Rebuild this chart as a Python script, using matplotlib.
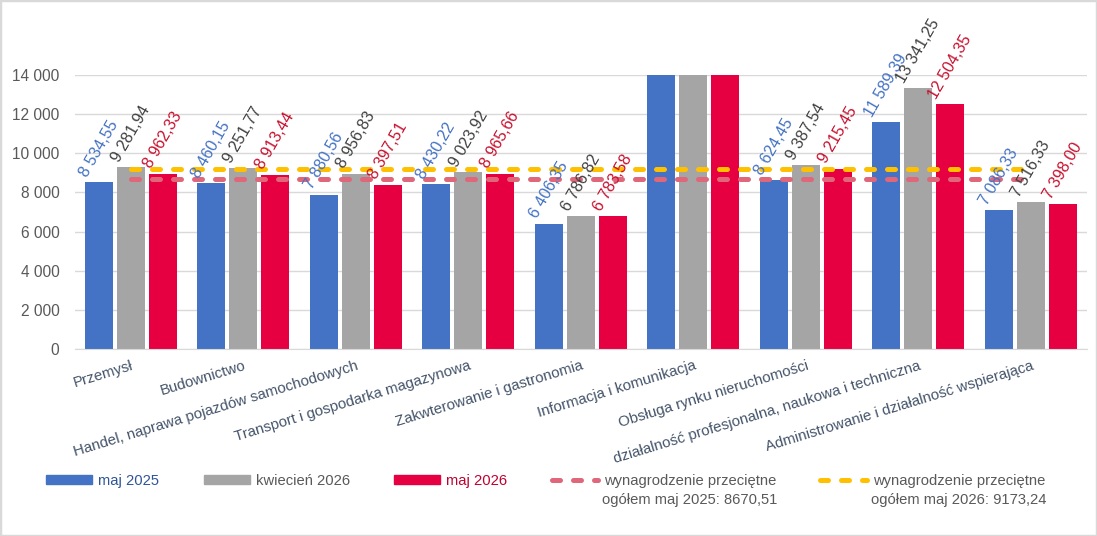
import numpy as np
import matplotlib
matplotlib.use("Agg")
import matplotlib.pyplot as plt
from matplotlib.lines import Line2D
from matplotlib.patches import Patch, Rectangle

plt.rcParams['font.family'] = ['Liberation Sans', 'DejaVu Sans']

categories = ["Przemysł", "Budownictwo", "Handel, naprawa pojazdów samochodowych",
              "Transport i gospodarka magazynowa", "Zakwterowanie i gastronomia",
              "Informacja i komunikacja", "Obsługa rynku nieruchomości",
              "działalność profesjonalna, naukowa i techniczna",
              "Administrowanie i działalność wspierająca"]
maj_2025 = [8534.55, 8460.15, 7880.56, 8430.22, 6406.35, 15012.70, 8624.45, 11589.39, 7086.33]
kwiecien_2026 = [9281.94, 9251.77, 8956.83, 9023.92, 6786.82, 16129.55, 9387.54, 13341.25, 7516.33]
maj_2026 = [8962.33, 8913.44, 8397.51, 8965.66, 6783.58, 15852.21, 9215.45, 12504.35, 7398.00]
avg_2025 = 8670.51
avg_2026 = 9173.24
series_names = ["maj 2025", "kwiecień 2026", "maj 2026"]
y_ticks = [0, 2000, 4000, 6000, 8000, 10000, 12000, 14000]

bar_colors = ["#4472C4", "#A5A5A5", "#E60042"]
label_colors = ["#4472C4", "#404040", "#C8102E"]
legend_text_colors = ["#2F5597", "#595959", "#C00030"]
pink = "#E0667A"
yellow = "#FFC000"
text_gray = "#44546A"


def fmt(v):
    return f"{v:,.2f}".replace(",", " ").replace(".", ",")


fig = plt.figure(figsize=(10.97, 5.36), dpi=100)
ax = fig.add_axes([0.068, 0.349, 0.923, 0.511])

x = np.arange(len(categories))
width = 0.25
step = 0.285
for i, vals in enumerate([maj_2025, kwiecien_2026, maj_2026]):
    xs = x + (i - 1) * step
    ax.bar(xs, vals, width, color=bar_colors[i], zorder=2, label=series_names[i])
    for xi, v in zip(xs, vals):
        if v > y_ticks[-1]:
            continue
        ax.annotate(fmt(v), (xi, v), xytext=(0, 2), textcoords="offset points",
                    rotation=60, ha="center", va="bottom", fontsize=11.5,
                    color=label_colors[i], zorder=5, annotation_clip=False)

dash_kw = dict(lw=3.6, dashes=(1.6, 2.6), dash_capstyle="round", zorder=3)
ax.plot([x[0], x[-1]], [avg_2025, avg_2025], color=pink, **dash_kw)
ax.plot([x[0], x[-1]], [avg_2026, avg_2026], color=yellow, **dash_kw)

ax.set_ylim(0, y_ticks[-1])
ax.set_xlim(-0.5, len(categories) - 0.5)
ax.set_yticks(y_ticks)
ax.set_yticklabels([f"{t:,}".replace(",", " ") for t in y_ticks], fontsize=11.2, color="#595959")
ax.set_xticks(x)
ax.set_xticklabels(categories, rotation=17, ha="right", va="top", rotation_mode="anchor",
                   fontsize=10.8, color=text_gray)
ax.tick_params(axis="both", length=0)
ax.tick_params(axis="x", pad=7)
ax.tick_params(axis="y", pad=11)
ax.grid(axis="y", color="#D9D9D9", lw=1, zorder=0)
ax.set_axisbelow(True)
for s in ["top", "right", "left"]:
    ax.spines[s].set_visible(False)
ax.spines["bottom"].set_color("#D9D9D9")

handles = [Patch(color=c) for c in bar_colors]
handles += [Line2D([], [], color=pink, lw=3.6, dashes=(1.6, 2.6), dash_capstyle="round"),
            Line2D([], [], color=yellow, lw=3.6, dashes=(1.6, 2.6), dash_capstyle="round")]
labels = series_names + ["wynagrodzenie przeciętne", "wynagrodzenie przeciętne"]
second_lines = [f"ogółem maj 2025: {avg_2025:.2f}".replace(".", ","),
                f"ogółem maj 2026: {avg_2026:.2f}".replace(".", ",")]
leg = fig.legend(handles, labels, loc="upper left", bbox_to_anchor=(0.042, 0.116),
                 ncol=5, frameon=False, fontsize=10.6, handlelength=3.15, handleheight=0.53,
                 handletextpad=0.4, columnspacing=3.0, borderpad=0, borderaxespad=0)
for t, c in zip(leg.get_texts(), legend_text_colors + ["#595959", "#595959"]):
    t.set_color(c)

fig.canvas.draw()
inv = fig.transFigure.inverted()
for t, line in zip(leg.get_texts()[3:], second_lines):
    bb = t.get_window_extent()
    cx, cy = inv.transform(((bb.x0 + bb.x1) / 2, bb.y0))
    fig.text(cx, cy - 0.01, line, ha="center", va="top", fontsize=10.6, color="#595959")

fig.patches.append(Rectangle((0, 0), 1, 1, transform=fig.transFigure, fill=False,
                             edgecolor="#D9D9D9", lw=2.5))

fig.savefig("out.png", dpi=100)
